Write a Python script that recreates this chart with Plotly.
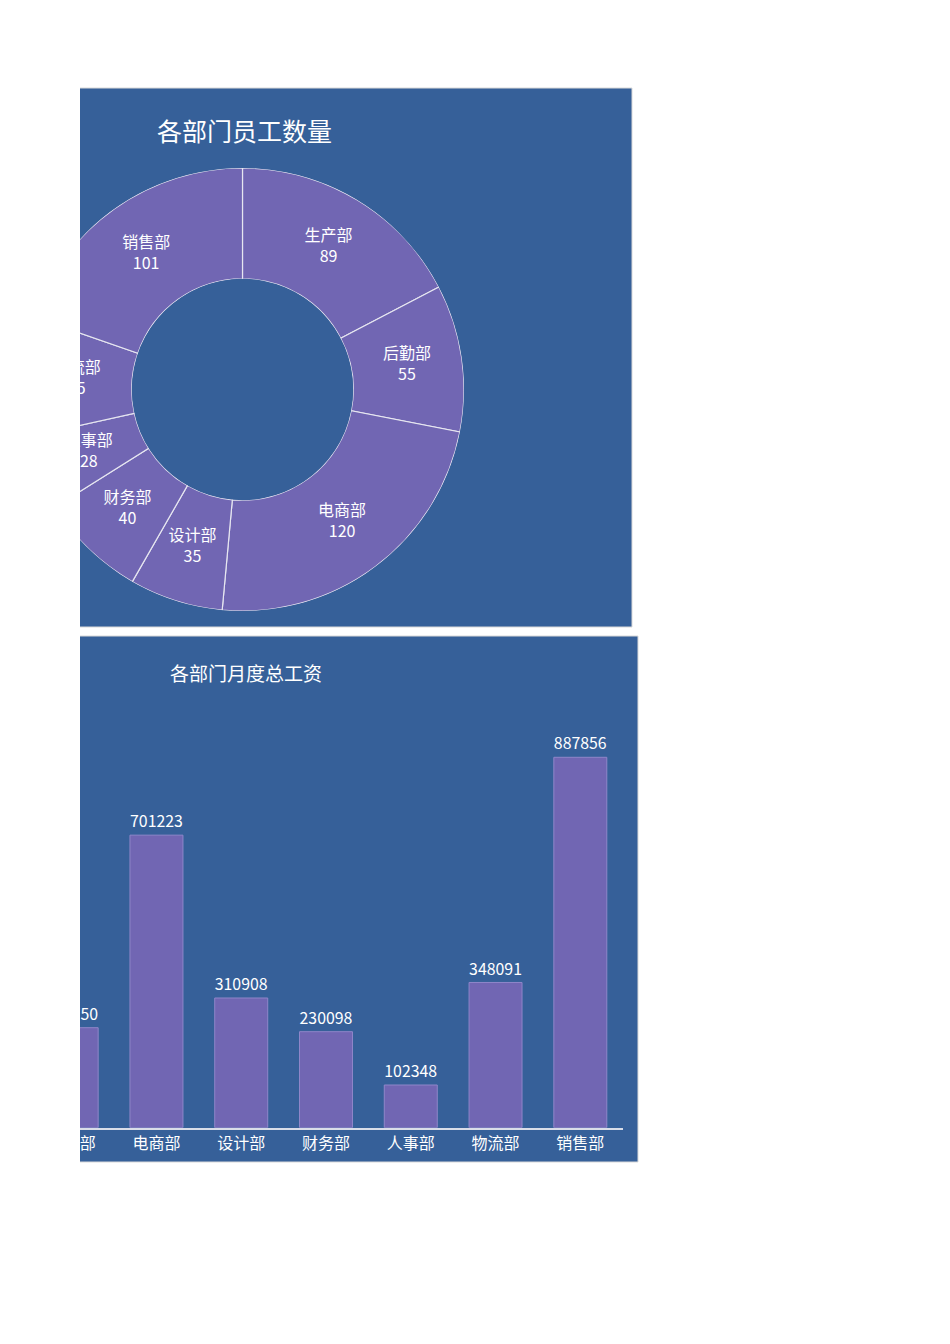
import numpy as np
import plotly.graph_objects as go

# 数据
departments = ["生产部", "后勤部", "电商部", "设计部", "财务部", "人事部", "物流部", "销售部"]
headcount = [89, 55, 120, 35, 40, 28, 45, 101]
salary_total = [445000, 239750, 701223, 310908, 230098, 102348, 348091, 887856]

W, H = 950, 1344
OFF = 8  # 页面默认边距
BG = "#366099"
PURPLE = "#7166B3"
FONT = "Noto Sans CJK SC"


def px(x):
    return (x - OFF) / W


def py(y):
    return 1 - (y - OFF) / H


fig = go.Figure()

# 环形图（用 barpolar 画扇区，标签放在每个扇区中线、环宽中间，和 Excel 一致）
counts = np.array(headcount, dtype=float)
widths = counts / counts.sum() * 360
mids = np.cumsum(widths) - widths / 2

fig.add_trace(go.Barpolar(
    r=[1] * len(departments),
    theta=mids,
    width=widths,
    marker=dict(color=PURPLE, line=dict(color="#E6E6F0", width=1.2)),
    hovertext=[f"{d}: {v}" for d, v in zip(departments, headcount)],
    hoverinfo="text",
    showlegend=False,
    subplot="polar",
))
fig.add_trace(go.Scatterpolar(
    r=[0.5] * len(departments),
    theta=mids,
    mode="text",
    text=[f"{d}<br>{v}" for d, v in zip(departments, headcount)],
    textfont=dict(color="white", size=16, family=FONT),
    cliponaxis=False,
    hoverinfo="skip",
    showlegend=False,
    subplot="polar",
))

# 柱状图
fig.add_trace(go.Bar(
    x=departments,
    y=salary_total,
    text=[str(v) for v in salary_total],
    textposition="outside",
    textfont=dict(color="white", size=16, family=FONT),
    marker=dict(color=PURPLE, line=dict(color="#8F86C9", width=1)),
    showlegend=False,
    cliponaxis=False,
))

# 类目中心：索引7 在 x=580.5，间距84.8
x_left = 7 - (580.5 - OFF) / 84.8

cx, cy, rad = 242.5, 389.5, 221.5

fig.update_layout(
    width=W, height=H,
    margin=dict(l=0, r=0, t=0, b=0),
    paper_bgcolor="white",
    plot_bgcolor="rgba(0,0,0,0)",
    font=dict(family=FONT, color="white"),
    bargap=0.375,
    polar=dict(
        domain=dict(x=[px(cx - rad), px(cx + rad)], y=[py(cy + rad), py(cy - rad)]),
        hole=0.5,
        bargap=0,
        bgcolor="rgba(0,0,0,0)",
        radialaxis=dict(range=[0, 1], visible=False, showgrid=False),
        angularaxis=dict(rotation=90, direction="clockwise", visible=False,
                         showgrid=False, showline=False),
    ),
    xaxis=dict(
        domain=[0, px(622.7)],
        range=[x_left, 7.5],
        showline=True, linecolor="#D9DDE8", linewidth=1.5,
        showgrid=False, zeroline=False, ticks="",
        tickfont=dict(color="white", size=16, family=FONT),
        fixedrange=True,
    ),
    yaxis=dict(
        domain=[py(1127.7), py(710.5)],
        range=[0, 1000000],
        visible=False,
        fixedrange=True,
    ),
    shapes=[
        # 上方面板
        dict(type="rect", xref="paper", yref="paper", layer="below",
             x0=-0.05, x1=px(632), y0=py(627), y1=py(88),
             fillcolor=BG, line=dict(color="#D9D9D9", width=1)),
        # 下方面板
        dict(type="rect", xref="paper", yref="paper", layer="below",
             x0=-0.05, x1=px(638), y0=py(1162), y1=py(636),
             fillcolor=BG, line=dict(color="#D9D9D9", width=1)),
        # 左侧裁切
        dict(type="rect", xref="paper", yref="paper", layer="above",
             x0=-0.1, x1=px(80), y0=-0.1, y1=1.1,
             fillcolor="white", line=dict(width=0)),
    ],
    annotations=[
        dict(text="各部门员工数量", xref="paper", yref="paper",
             x=px(244), y=py(130), xanchor="center", yanchor="middle",
             showarrow=False, font=dict(size=25, color="white", family=FONT)),
        dict(text="各部门月度总工资", xref="paper", yref="paper",
             x=px(246), y=py(672), xanchor="center", yanchor="middle",
             showarrow=False, font=dict(size=19, color="white", family=FONT)),
    ],
)

fig.write_html("out.html")
